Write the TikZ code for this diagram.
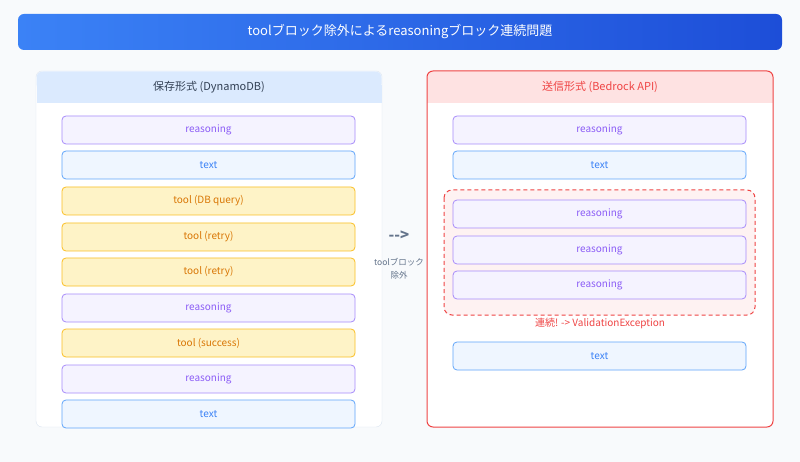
\documentclass[tikz,border=0pt]{standalone}
\usepackage{fontspec}
\setmainfont{Noto Sans CJK JP}
\definecolor{bg}{RGB}{248,250,252}
\definecolor{redc}{RGB}{239,68,68}
\definecolor{rsf}{RGB}{245,243,255}\definecolor{rsd}{RGB}{167,139,250}\definecolor{rst}{RGB}{139,92,246}
\definecolor{txf}{RGB}{239,246,255}\definecolor{txd}{RGB}{96,165,250}\definecolor{txt}{RGB}{59,130,246}
\definecolor{tlf}{RGB}{254,243,199}\definecolor{tld}{RGB}{251,191,36}\definecolor{tlt}{RGB}{217,119,6}
\definecolor{lhead}{RGB}{219,234,254}\definecolor{lbord}{RGB}{219,228,240}
\definecolor{rhead}{RGB}{254,226,226}\definecolor{redbg}{RGB}{254,242,242}
\definecolor{tb1}{RGB}{59,130,246}\definecolor{tb2}{RGB}{29,78,216}
\definecolor{slate}{RGB}{100,116,139}\definecolor{dark}{RGB}{51,65,85}
\begin{document}
\begin{tikzpicture}[x=1pt,y=-1pt,
 blk/.style={draw,rounded corners=4pt,minimum width=293pt,minimum height=28pt,font=\fontsize{10}{12}\selectfont,line width=0.8pt},
 rs/.style={blk,fill=rsf,draw=rsd,text=rst},
 tx/.style={blk,fill=txf,draw=txd,text=txt},
 tl/.style={blk,fill=tlf,draw=tld,text=tlt}]
\useasboundingbox (0,0) rectangle (800,462);
\fill[bg] (0,0) rectangle (800,462);
\shade[left color=tb1,right color=tb2,rounded corners=6pt] (18,14) rectangle (782,50);
\node[text=white,font=\fontsize{13}{15}\selectfont] (title) at (400,32) {toolブロック除外によるreasoningブロック連続問題};
% left panel
\filldraw[fill=white,draw=lbord,rounded corners=6pt] (36,71) rectangle (382,427);
\fill[lhead,rounded corners=6pt] (36.5,71.5) rectangle (381.5,90);
\fill[lhead] (36.5,85) rectangle (381.5,103);
\node[text=dark,font=\fontsize{11}{13}\selectfont] (lh) at (209,87) {保存形式 (DynamoDB)};
% right panel
\fill[white,rounded corners=6pt] (427,71) rectangle (773,427);
\fill[rhead,rounded corners=6pt] (427,71) rectangle (773,90);
\fill[rhead] (427,85) rectangle (773,103);
\draw[redc,line width=1pt,rounded corners=6pt] (427,71) rectangle (773,427);
\node[text=redc,font=\fontsize{11}{13}\selectfont] (rh) at (600,87) {送信形式 (Bedrock API)};
% left blocks
\node[rs] (l1) at (208.5,130) {reasoning};
\node[tx] (l2) at (208.5,165) {text};
\node[tl] (l3) at (208.5,201) {tool (DB query)};
\node[tl] (l4) at (208.5,237) {tool (retry)};
\node[tl] (l5) at (208.5,272) {tool (retry)};
\node[rs] (l6) at (208.5,308) {reasoning};
\node[tl] (l7) at (208.5,343) {tool (success)};
\node[rs] (l8) at (208.5,379) {reasoning};
\node[tx] (l9) at (208.5,414) {text};
% right
\node[rs] (r1) at (599.5,130) {reasoning};
\node[tx] (r2) at (599.5,165) {text};
\filldraw[fill=redbg,draw=redc,line width=1pt,dash pattern=on 4pt off 3pt,rounded corners=8pt] (444,190) rectangle (755,315);
\node[rs] (r3) at (599.5,214) {reasoning};
\node[rs] (r4) at (599.5,250) {reasoning};
\node[rs] (r5) at (599.5,285) {reasoning};
\node[text=redc,font=\fontsize{10}{12}\selectfont] (warn) at (600,323) {連続! -> ValidationException};
\node[tx] (r6) at (599.5,356) {text};
% arrow
\node[text=slate,font=\fontsize{15}{17}\selectfont\bfseries] (arr) at (399,236) {-{}->};
\node[text=slate,font=\fontsize{8.5}{13}\selectfont,align=center] (arrl) at (399,269) {toolブロック\\除外};
\end{tikzpicture}
\end{document}
